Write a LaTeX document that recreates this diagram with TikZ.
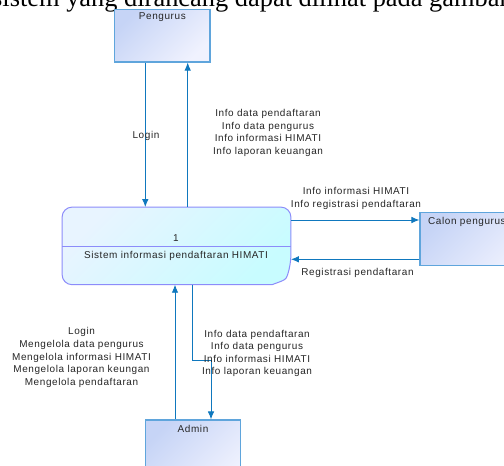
\documentclass[tikz,border=0pt]{standalone}
\usepackage{fontspec}
\usetikzlibrary{arrows.meta}
\newfontfamily\lblfont{Liberation Sans}[LetterSpace=6]
\newfontfamily\docfont{Liberation Serif}
\definecolor{flowc}{RGB}{15,120,190}
\definecolor{entline}{RGB}{95,165,220}
\definecolor{entA}{RGB}{198,212,246}
\definecolor{entB}{RGB}{240,242,254}
\definecolor{procline}{RGB}{140,140,250}
\definecolor{procA}{RGB}{232,244,255}
\definecolor{procB}{RGB}{200,252,255}
\begin{document}
\begin{tikzpicture}[x=1bp,y=-1bp,
  lbl/.style={font=\lblfont\fontsize{10}{12.6}\selectfont, align=center, inner sep=0pt, text=black!85},
  entity/.style={draw=entline, line width=1.1bp, top color=entA, bottom color=entB, shading angle=45, inner sep=0pt, rectangle},
  flow/.style={draw=flowc, line width=0.9bp, -{Latex[length=8bp,width=6.5bp]}}]
\fill[white] (0,0) rectangle (504,466);
\path[use as bounding box] (0,0) rectangle (504,466);
\clip (0,0) rectangle (504,466);
% document text above
\node[font=\docfont\fontsize{26.5}{30}\selectfont, anchor=base west, inner sep=0pt] (doctext) at (-8,6.5) {sistem yang dirancang dapat dilihat pada gambar};
% entities
\node[entity, minimum width=95.3bp, minimum height=52.7bp] (pengurus) at (162.35,35.65) {};
\node[lbl, anchor=center] (pengurustxt) at (162.35,17.5) {Pengurus};
\node[entity, minimum width=120bp, minimum height=53.4bp] (calon) at (480,239) {};
\node[lbl, anchor=west] (calontxt) at (428,221.7) {Calon pengurus};
\node[entity, minimum width=95bp, minimum height=70bp] (admin) at (193.2,455) {};
\node[lbl] (admintxt) at (193,429) {Admin};
% process
\node[minimum width=228.4bp, minimum height=77.2bp, inner sep=0pt] (proc) at (176.5,245.9) {};
\path[draw=procline, line width=1bp, top color=procA, bottom color=procB, shading angle=45, rounded corners=10bp]
  (proc.south) -- (proc.south west) -- (proc.north west) -- (proc.north east) -- ([yshift=19.5bp]proc.south east)
  [sharp corners] .. controls ([xshift=-5bp,yshift=5bp]proc.south east) .. ([xshift=-19bp]proc.south east) -- cycle;
\coordinate (divy) at (0,246.7);
\draw[procline, line width=1bp] (proc.west |- divy) -- (proc.east |- divy);
\node[lbl] (pnum) at (176,237.7) {1};
\node[lbl] (pname) at (176,256) {Sistem informasi pendaftaran HIMATI};
% connector positions
\coordinate (xl) at (145.3,0);
\coordinate (xu) at (187.7,0);
\coordinate (yr) at (0,220);
\coordinate (yl) at (0,259.3);
\coordinate (xa) at (175,0);
\coordinate (xb) at (192.3,0);
\coordinate (bend) at (211,360.7);
% connectors
\draw[flow] (pengurus.south -| xl) -- (proc.north -| xl);
\draw[flow] (proc.north -| xu) -- (pengurus.south -| xu);
\draw[flow] (proc.east |- yr) -- (calon.west |- yr);
\draw[flow] (calon.west |- yl) -- (proc.east |- yl);
\draw[flow] (admin.north -| xa) -- (proc.south -| xa);
\draw[flow] (proc.south -| xb) |- (bend) -- (admin.north -| bend);
% labels
\node[lbl] (lblogin) at (146,135.7) {Login};
\node[lbl] (lbtop) at (268,133) {Info data pendaftaran\\Info data pengurus\\Info informasi HIMATI\\Info laporan keuangan};
\node[lbl] (lbcalon) at (356,198.5) {Info informasi HIMATI\\Info registrasi pendaftaran};
\node[lbl] (lbreg) at (357.5,272.5) {Registrasi pendaftaran};
\node[lbl] (lbadmin) at (81.5,357.5) {Login\\Mengelola data pengurus\\Mengelola informasi HIMATI\\Mengelola laporan keungan\\Mengelola pendaftaran};
\node[lbl] (lbinfo) at (257,353.5) {Info data pendaftaran\\Info data pengurus\\Info informasi HIMATI\\Info laporan keuangan};
\end{tikzpicture}
\end{document}
